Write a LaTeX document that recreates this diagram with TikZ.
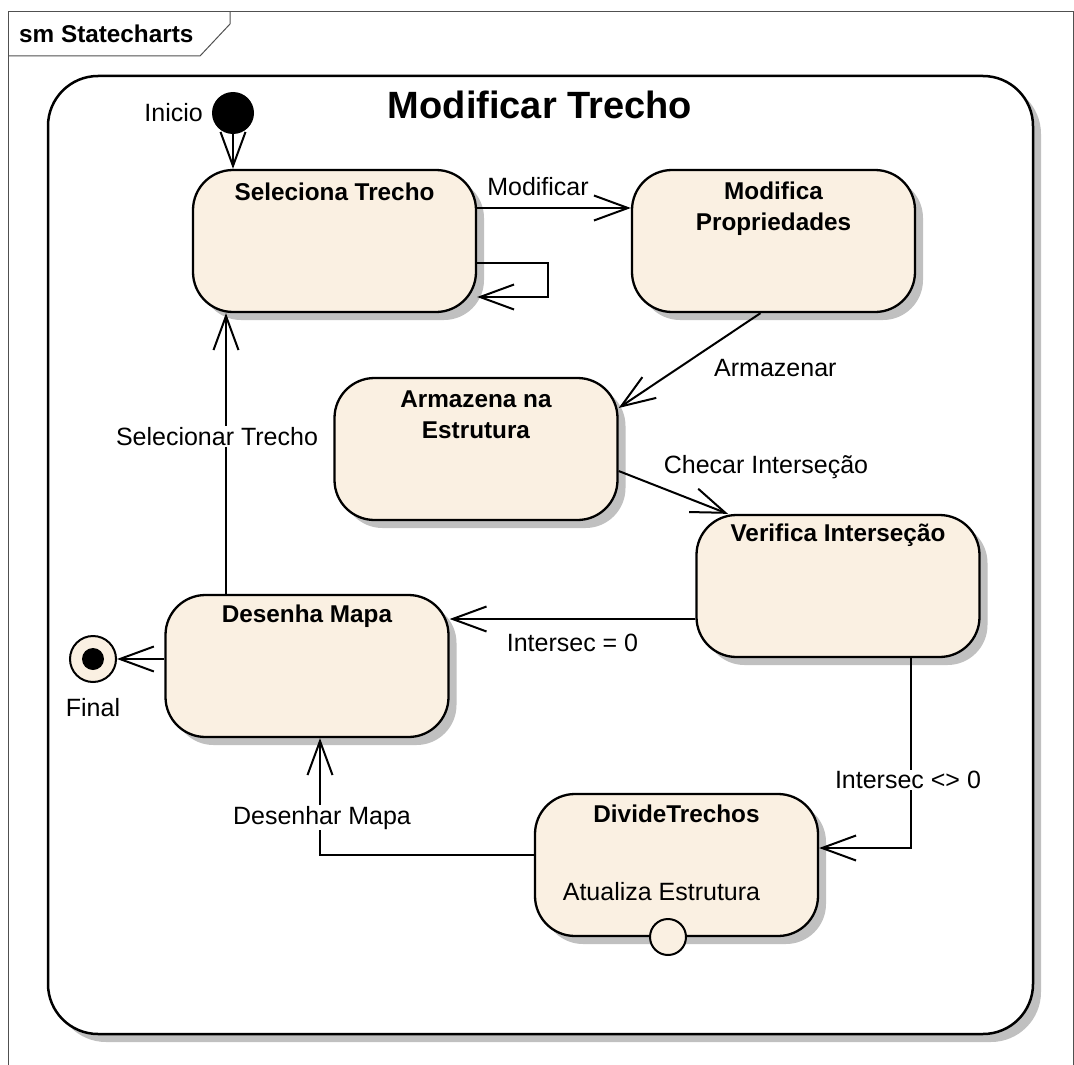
\documentclass[tikz,border=0pt]{standalone}
\usepackage{fontspec}
\setmainfont{Liberation Sans}
\usetikzlibrary{arrows.meta,shadows}
\definecolor{statefill}{RGB}{250,240,226}
\definecolor{shadowgray}{RGB}{192,192,192}
\definecolor{framegray}{RGB}{80,80,80}
\newcommand\lblfont{\fontsize{25}{28}\selectfont}
\newcommand\namefont{\fontsize{24.3}{31}\selectfont\bfseries}
\begin{document}
\begin{tikzpicture}[x=1pt,y=-1pt,
  solidshadow/.style={drop shadow={shadow xshift=8pt,shadow yshift=-8pt,fill=shadowgray,opacity=1}},
  statebox/.style={draw=black,line width=2.3pt,fill=statefill,rounded corners=40pt,
    minimum width=283pt,minimum height=142pt,inner sep=0pt,solidshadow},
  sname/.style={font=\namefont,align=center,inner sep=0pt},
  tr/.style={line width=2pt,-{Straight Barb[length=34pt,width=25pt,line width=2pt]}},
  lbl/.style={fill=white,inner sep=1pt,font=\lblfont},
]
\useasboundingbox (0,0) rectangle (1074,1065);

% diagram frame and its name tab
\draw[framegray,line width=1pt] (8,1065) -- (8,12) -- (1073,12) -- (1073,1065);
\draw[framegray,line width=1pt] (8,56) -- (200,56) -- (230,24) -- (230,12);
\node[anchor=west,font=\namefont,inner sep=0pt] (frametitle) at (19,34) {sm Statecharts};

% composite state
\node[draw=black,line width=2.5pt,fill=white,rounded corners=50pt,minimum width=985pt,
  minimum height=958pt,inner sep=0pt,solidshadow] (outer) at (540.5,555) {};
\node[font=\fontsize{38}{40}\selectfont\bfseries,inner sep=0pt] (outertitle) at (540,105) {Modificar Trecho};

% pseudo states
\node[circle,fill=black,minimum size=42pt,inner sep=0pt] (init) at (233,113) {};
\node[anchor=east,font=\lblfont,inner sep=0pt] (initlbl) at (203,113) {Inicio};
\node[circle,draw=black,line width=2pt,fill=statefill,minimum size=46pt,inner sep=0pt] (fin) at (93,659) {};
\node[circle,fill=black,minimum size=22pt,inner sep=0pt] (findot) at (fin.center) {};
\node[font=\lblfont,inner sep=0pt] (finlbl) at (93,708) {Final};

% states
\node[statebox] (sel) at (334.5,241) {};
\node[sname] (selT) at ([yshift=-23pt]sel.north) {Seleciona Trecho};
\node[statebox] (mod) at (773.5,241) {};
\node[sname] (modT) at ([yshift=-40pt]mod.north) {Modifica\\Propriedades};
\node[statebox] (arm) at (476,449) {};
\node[sname] (armT) at ([yshift=-38pt]arm.north) {Armazena na\\Estrutura};
\node[statebox] (ver) at (838,586) {};
\node[sname] (verT) at ([yshift=-21pt]ver.north) {Verifica Interseção};
\node[statebox] (des) at (307,666) {};
\node[sname] (desT) at ([yshift=-22pt]des.north) {Desenha Mapa};
\node[statebox] (div) at (676.5,865) {};
\node[sname] (divT) at ([yshift=-21pt]div.north) {DivideTrechos};
\node[font=\lblfont,inner sep=0pt] (divAct) at ([xshift=-15pt,yshift=-27pt]div.center) {Atualiza Estrutura};
\node[circle,draw=black,line width=2pt,fill=statefill,minimum size=36pt,inner sep=0pt] (exitpt) at (668,937) {};

% transitions
\draw[tr] (init) -- (init |- sel.north);
\draw[tr] ([yshift=33pt]sel.east) -- ([yshift=33pt]mod.west)
  node[lbl,midway,above=10pt,xshift=-16pt] {Modificar};
\draw[tr] ([yshift=-22pt]sel.east) -- ++(71,0) -- ++(0,34) -- ([yshift=-56pt]sel.east);
\draw[tr] ([xshift=-13pt]mod.south) -- ([yshift=41pt]arm.east)
  node[lbl,pos=0.58,anchor=west,xshift=34pt] {Armazenar};
\draw[tr] ([yshift=-22pt]arm.east) -- ([xshift=-110pt]ver.north);
\node[lbl] (checklbl) at ([xshift=-72pt,yshift=47pt]ver.north) {Checar Interseção};
\draw[tr] ([yshift=-33pt]ver.west) -- ([yshift=-33pt]ver.west -| des.east)
  node[lbl,midway,below=13pt] {Intersec = 0};
\draw[tr] ([xshift=73pt]ver.south) |- ([yshift=17pt]div.east)
  node[lbl,pos=0.32,xshift=-3pt] {Intersec <> 0};
\draw[tr] ([yshift=10pt]div.west) -| ([xshift=13pt]des.south)
  node[lbl,pos=0.66,xshift=2pt] {Desenhar Mapa};
\draw[tr] ([xshift=-81pt]des.north) -- ([xshift=-81pt]des.north |- sel.south)
  node[lbl,pos=0.56,xshift=-9pt] {Selecionar Trecho};
\draw[tr] (fin -| des.west) -- (fin);
\end{tikzpicture}
\end{document}
